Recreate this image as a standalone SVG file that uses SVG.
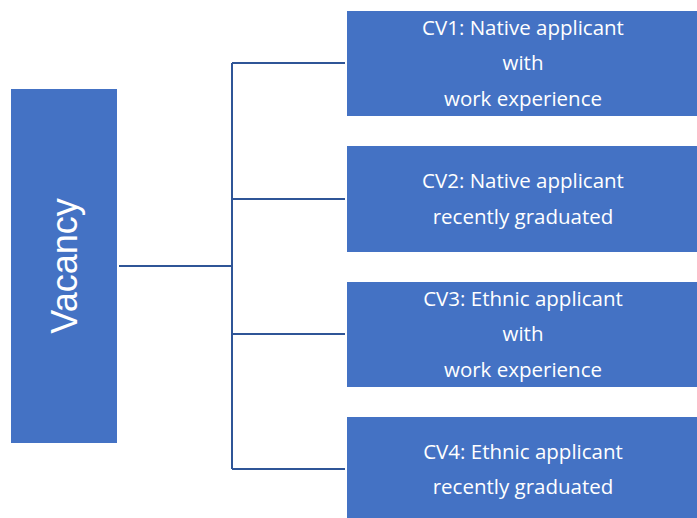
<svg xmlns="http://www.w3.org/2000/svg" width="697" height="518" viewBox="0 0 697 518">
<style>
.box{fill:#4472C4}
.t{font-family:"Open Sans","Liberation Sans",sans-serif;font-size:20.5px;fill:#fff;text-anchor:middle}
.v{font-family:"Liberation Sans",sans-serif;font-size:36px;fill:#fff;text-anchor:middle}
.c{stroke:#2F5597;stroke-width:2;fill:none}
</style>
<rect width="697" height="518" fill="#fff"/>
<g id="connectors">
<path class="c" d="M119 266H232M232 63V469M232 63H345M232 199H345M232 334H345M232 469H345"/>
</g>
<g id="vacancy">
<rect class="box" x="11" y="89" width="106" height="354"/>
<text class="v" transform="translate(77 266) rotate(-90)">Vacancy</text>
</g>
<g id="cv1">
<rect class="box" x="347" y="11" width="350" height="105"/>
<text class="t" x="523" y="35">CV1: Native applicant</text>
<text class="t" x="523" y="70">with</text>
<text class="t" x="523" y="106">work experience</text>
</g>
<g id="cv2">
<rect class="box" x="347" y="146" width="350" height="106"/>
<text class="t" x="523" y="188">CV2: Native applicant</text>
<text class="t" x="523" y="224">recently graduated</text>
</g>
<g id="cv3">
<rect class="box" x="347" y="282" width="350" height="105"/>
<text class="t" x="523" y="306">CV3: Ethnic applicant</text>
<text class="t" x="523" y="341">with</text>
<text class="t" x="523" y="377">work experience</text>
</g>
<g id="cv4">
<rect class="box" x="347" y="417" width="350" height="101"/>
<text class="t" x="523" y="459">CV4: Ethnic applicant</text>
<text class="t" x="523" y="494">recently graduated</text>
</g>
</svg>
